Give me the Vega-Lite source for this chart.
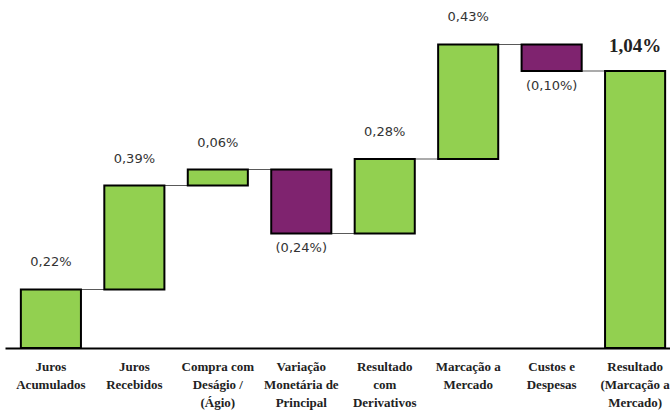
{
  "$schema": "https://vega.github.io/schema/vega-lite/v6.json",
  "width": 676,
  "height": 343,
  "view": {"stroke": null},
  "data": {"values": [
    {"cat": "Juros|Acumulados", "lo": 0, "hi": 0.22, "end": 0.22, "label": "0,22%", "kind": "pos"},
    {"cat": "Juros|Recebidos", "lo": 0.22, "hi": 0.61, "end": 0.61, "label": "0,39%", "kind": "pos"},
    {"cat": "Compra com|Deságio /|(Ágio)", "lo": 0.61, "hi": 0.67, "end": 0.67, "label": "0,06%", "kind": "pos"},
    {"cat": "Variação|Monetária de|Principal", "lo": 0.43, "hi": 0.67, "end": 0.43, "label": "(0,24%)", "kind": "neg"},
    {"cat": "Resultado|com|Derivativos", "lo": 0.43, "hi": 0.71, "end": 0.71, "label": "0,28%", "kind": "pos"},
    {"cat": "Marcação a|Mercado", "lo": 0.71, "hi": 1.14, "end": 1.14, "label": "0,43%", "kind": "pos"},
    {"cat": "Custos e|Despesas", "lo": 1.04, "hi": 1.14, "end": 1.04, "label": "(0,10%)", "kind": "neg"},
    {"cat": "Resultado|(Marcação a|Mercado)", "lo": 0, "hi": 1.04, "end": 1.04, "label": "1,04%", "kind": "total"}
  ]},
  "encoding": {
    "x": {
      "field": "cat", "type": "nominal", "sort": null,
      "scale": {"paddingInner": 0.28, "paddingOuter": 0.19},
      "axis": {
        "title": null, "labelAngle": 0, "ticks": false,
        "domainColor": "black", "domainWidth": 2,
        "labelExpr": "split(datum.label, '|')",
        "labelFont": "Liberation Serif", "labelFontWeight": "bold", "labelFontSize": 13,
        "labelColor": "#222", "labelLineHeight": 18, "labelPadding": 12,
        "labelBaseline": "top", "labelLimit": 200
      }
    }
  },
  "layer": [
    {
      "mark": {"type": "tick", "orient": "horizontal", "size": 83, "thickness": 1, "xOffset": 41.7, "color": "#595959"},
      "encoding": {
        "y": {"field": "end", "type": "quantitative", "scale": {"domain": [0, 1.288], "nice": false}, "axis": null},
        "opacity": {"condition": {"test": "datum.kind == 'total'", "value": 0}, "value": 1}
      }
    },
    {
      "mark": {"type": "bar", "stroke": "black", "strokeWidth": 2},
      "encoding": {
        "y": {"field": "lo", "type": "quantitative", "axis": null},
        "y2": {"field": "hi"},
        "color": {"field": "kind", "type": "nominal", "legend": null,
          "scale": {"domain": ["pos", "neg", "total"], "range": ["#92D050", "#7F236F", "#92D050"]}}
      }
    },
    {
      "mark": {"type": "text", "font": "DejaVu Sans", "fontSize": 13, "color": "#333", "dy": -27},
      "encoding": {
        "y": {"field": "hi", "type": "quantitative", "axis": null},
        "text": {"condition": {"test": "datum.kind == 'pos'", "field": "label"}, "value": ""}
      }
    },
    {
      "mark": {"type": "text", "font": "DejaVu Sans", "fontSize": 13, "color": "#333", "dy": 15},
      "encoding": {
        "y": {"field": "lo", "type": "quantitative", "axis": null},
        "text": {"condition": {"test": "datum.kind == 'neg'", "field": "label"}, "value": ""}
      }
    },
    {
      "mark": {"type": "text", "font": "Liberation Serif", "fontWeight": "bold", "fontSize": 19, "color": "#222", "dy": -25},
      "encoding": {
        "y": {"field": "hi", "type": "quantitative", "axis": null},
        "text": {"condition": {"test": "datum.kind == 'total'", "field": "label"}, "value": ""}
      }
    }
  ]
}
